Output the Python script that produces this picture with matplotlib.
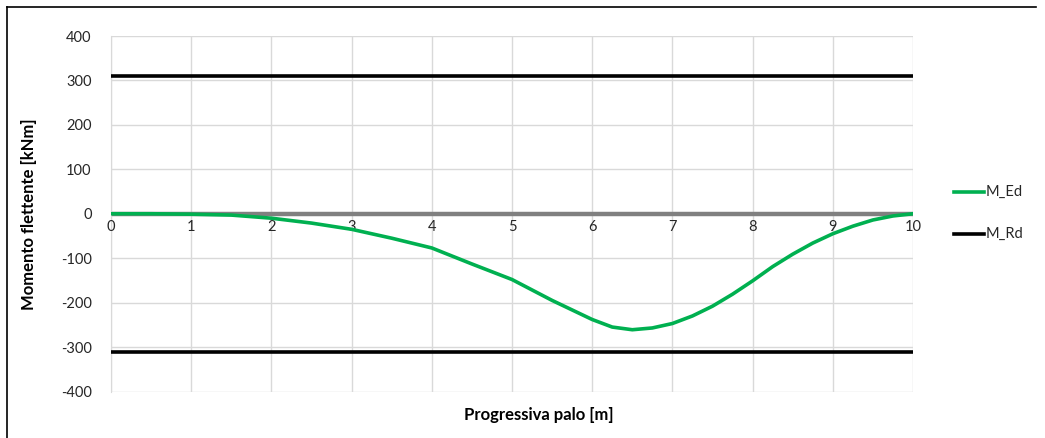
import matplotlib
matplotlib.use("Agg")
import matplotlib.pyplot as plt
from matplotlib.lines import Line2D

plt.rcParams['font.family'] = ['Lato', 'DejaVu Sans']
plt.rcParams['axes.unicode_minus'] = False

# Data
x_ed = [0, 0.5, 1, 1.5, 2, 2.5, 3, 3.5, 4, 4.5, 5, 5.5, 6, 6.25, 6.5, 6.75,
        7, 7.25, 7.5, 7.75, 8, 8.25, 8.5, 8.75, 9, 9.25, 9.5, 9.75, 10]
m_ed = [0, 0, -1, -3, -10, -21, -35, -55, -77, -113, -148, -195, -238, -255, -261, -257,
        -247, -230, -208, -181, -151, -119, -91, -66, -45, -28, -14, -5, 0]
x_rd = [0, 10]
m_rd_pos = [310, 310]
m_rd_neg = [-310, -310]
x_ticks = list(range(0, 11))
y_ticks = list(range(-400, 401, 100))

W, H = 1045, 438
fig = plt.figure(figsize=(W / 100, H / 100), dpi=100)
ax = fig.add_axes([111 / W, 1 - 391.5 / H, (913 - 111) / W, (391.5 - 36) / H])

grid_c = '#d9d9d9'
ax.set_xlim(0, 10)
ax.set_ylim(-400, 400)
ax.set_xticks(x_ticks)
ax.set_yticks(y_ticks)
ax.set_yticklabels([str(v) for v in y_ticks])
ax.grid(True, color=grid_c, linewidth=1)
ax.set_axisbelow(True)
for s in ['top', 'right', 'bottom']:
    ax.spines[s].set_visible(False)
ax.spines['left'].set_color(grid_c)
ax.tick_params(axis='both', length=0, labelsize=10.5, colors='#262626')
ax.tick_params(axis='y', pad=14)
ax.set_xticklabels([])

# x tick labels just below zero line
for t in x_ticks:
    ax.text(t, -14, str(t), ha='center', va='top', fontsize=10.5, color='#262626')

# zero axis line
ax.axhline(0, color='#808080', linewidth=3.2, zorder=2)

ax.plot(x_rd, m_rd_pos, color='black', linewidth=2.6, zorder=3, solid_capstyle='butt')
ax.plot(x_rd, m_rd_neg, color='black', linewidth=2.6, zorder=3, solid_capstyle='butt')
ax.plot(x_ed, m_ed, color='#00b050', linewidth=2.6, zorder=4)

ax.set_ylabel('Momento flettente [kNm]', fontsize=12, fontweight='bold')
ax.yaxis.set_label_coords(-(111 - 37) / (913 - 111), 0.5)
fig.text(539 / W, 1 - 415 / H, 'Progressiva palo [m]', ha='center', va='center',
         fontsize=12, fontweight='bold')

# Legend
fig.add_artist(Line2D([954 / W, 984 / W], [1 - 192 / H] * 2, color='#00b050', linewidth=2.6))
fig.text(986 / W, 1 - 192 / H, 'M_Ed', ha='left', va='center', fontsize=10.5, color='#262626')
fig.add_artist(Line2D([954 / W, 984 / W], [1 - 234 / H] * 2, color='black', linewidth=2.6))
fig.text(986 / W, 1 - 234 / H, 'M_Rd', ha='left', va='center', fontsize=10.5, color='#262626')

# Figure border (top and left visible)
fig.add_artist(Line2D([7 / W, 1036 / W], [1 - 7 / H] * 2, color='black', linewidth=1.2))
fig.add_artist(Line2D([7 / W, 7 / W], [1 - 7 / H, 0], color='black', linewidth=1.2))

fig.savefig('out.png', dpi=100)
